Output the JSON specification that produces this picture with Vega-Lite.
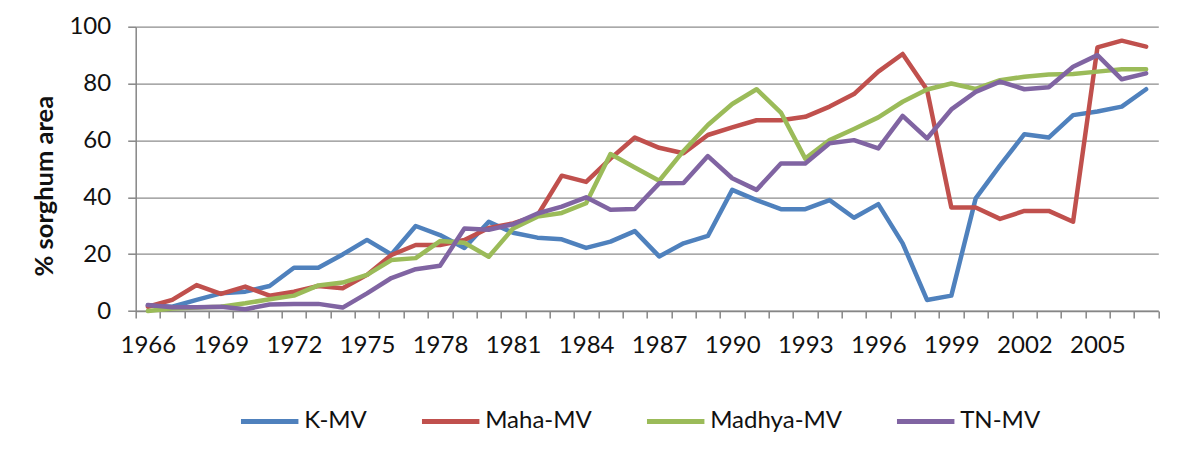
{
  "$schema": "https://vega.github.io/schema/vega-lite/v6.json",
  "autosize": {"type": "none"},
  "padding": {"left": 135.7, "top": 26.7, "right": 32.7, "bottom": 148},
  "width": 1022.6,
  "height": 284.3,
  "background": "white",
  "config": {
    "font": "Lato",
    "view": {"stroke": null},
    "axis": {"labelFont": "Lato", "labelFontSize": 24, "labelColor": "#111111", "domainColor": "#868686", "tickColor": "#868686", "domainWidth": 1.5, "tickWidth": 1.5, "gridColor": "#8c8c8c", "gridWidth": 1.3},
    "legend": {"labelFont": "Lato", "labelFontSize": 24, "labelColor": "#111111"}
  },
  "data": {"values": [
    {"year":"1966","series":"K-MV","value":2.0},{"year":"1967","series":"K-MV","value":1.5},{"year":"1968","series":"K-MV","value":3.9},{"year":"1969","series":"K-MV","value":6.2},{"year":"1970","series":"K-MV","value":6.8},{"year":"1971","series":"K-MV","value":8.8},{"year":"1972","series":"K-MV","value":15.2},{"year":"1973","series":"K-MV","value":15.2},{"year":"1974","series":"K-MV","value":19.9},{"year":"1975","series":"K-MV","value":25.0},{"year":"1976","series":"K-MV","value":19.9},{"year":"1977","series":"K-MV","value":29.9},{"year":"1978","series":"K-MV","value":26.7},{"year":"1979","series":"K-MV","value":22.2},{"year":"1980","series":"K-MV","value":31.4},{"year":"1981","series":"K-MV","value":27.5},{"year":"1982","series":"K-MV","value":25.8},{"year":"1983","series":"K-MV","value":25.2},{"year":"1984","series":"K-MV","value":22.2},{"year":"1985","series":"K-MV","value":24.4},{"year":"1986","series":"K-MV","value":28.1},{"year":"1987","series":"K-MV","value":19.2},{"year":"1988","series":"K-MV","value":23.8},{"year":"1989","series":"K-MV","value":26.4},{"year":"1990","series":"K-MV","value":42.6},{"year":"1991","series":"K-MV","value":39.0},{"year":"1992","series":"K-MV","value":35.8},{"year":"1993","series":"K-MV","value":35.8},{"year":"1994","series":"K-MV","value":39.0},{"year":"1995","series":"K-MV","value":32.8},{"year":"1996","series":"K-MV","value":37.6},{"year":"1997","series":"K-MV","value":23.8},{"year":"1998","series":"K-MV","value":3.9},{"year":"1999","series":"K-MV","value":5.4},{"year":"2000","series":"K-MV","value":39.6},{"year":"2001","series":"K-MV","value":51.2},{"year":"2002","series":"K-MV","value":62.2},{"year":"2003","series":"K-MV","value":61.0},{"year":"2004","series":"K-MV","value":68.9},{"year":"2005","series":"K-MV","value":70.2},{"year":"2006","series":"K-MV","value":71.9},{"year":"2007","series":"K-MV","value":78.0},
    {"year":"1966","series":"Maha-MV","value":1.5},{"year":"1967","series":"Maha-MV","value":3.9},{"year":"1968","series":"Maha-MV","value":9.1},{"year":"1969","series":"Maha-MV","value":6.0},{"year":"1970","series":"Maha-MV","value":8.6},{"year":"1971","series":"Maha-MV","value":5.4},{"year":"1972","series":"Maha-MV","value":6.8},{"year":"1973","series":"Maha-MV","value":8.8},{"year":"1974","series":"Maha-MV","value":8.0},{"year":"1975","series":"Maha-MV","value":12.7},{"year":"1976","series":"Maha-MV","value":19.7},{"year":"1977","series":"Maha-MV","value":23.2},{"year":"1978","series":"Maha-MV","value":23.2},{"year":"1979","series":"Maha-MV","value":25.0},{"year":"1980","series":"Maha-MV","value":29.2},{"year":"1981","series":"Maha-MV","value":30.8},{"year":"1982","series":"Maha-MV","value":33.6},{"year":"1983","series":"Maha-MV","value":47.6},{"year":"1984","series":"Maha-MV","value":45.4},{"year":"1985","series":"Maha-MV","value":53.6},{"year":"1986","series":"Maha-MV","value":61.0},{"year":"1987","series":"Maha-MV","value":57.4},{"year":"1988","series":"Maha-MV","value":55.5},{"year":"1989","series":"Maha-MV","value":61.9},{"year":"1990","series":"Maha-MV","value":64.6},{"year":"1991","series":"Maha-MV","value":67.1},{"year":"1992","series":"Maha-MV","value":67.1},{"year":"1993","series":"Maha-MV","value":68.3},{"year":"1994","series":"Maha-MV","value":71.9},{"year":"1995","series":"Maha-MV","value":76.3},{"year":"1996","series":"Maha-MV","value":84.2},{"year":"1997","series":"Maha-MV","value":90.4},{"year":"1998","series":"Maha-MV","value":77.8},{"year":"1999","series":"Maha-MV","value":36.4},{"year":"2000","series":"Maha-MV","value":36.4},{"year":"2001","series":"Maha-MV","value":32.4},{"year":"2002","series":"Maha-MV","value":35.2},{"year":"2003","series":"Maha-MV","value":35.2},{"year":"2004","series":"Maha-MV","value":31.4},{"year":"2005","series":"Maha-MV","value":92.7},{"year":"2006","series":"Maha-MV","value":95.1},{"year":"2007","series":"Maha-MV","value":93.0},
    {"year":"1966","series":"Madhya-MV","value":0.0},{"year":"1967","series":"Madhya-MV","value":0.9},{"year":"1968","series":"Madhya-MV","value":1.2},{"year":"1969","series":"Madhya-MV","value":1.5},{"year":"1970","series":"Madhya-MV","value":2.7},{"year":"1971","series":"Madhya-MV","value":4.1},{"year":"1972","series":"Madhya-MV","value":5.4},{"year":"1973","series":"Madhya-MV","value":9.0},{"year":"1974","series":"Madhya-MV","value":10.0},{"year":"1975","series":"Madhya-MV","value":12.7},{"year":"1976","series":"Madhya-MV","value":17.9},{"year":"1977","series":"Madhya-MV","value":18.6},{"year":"1978","series":"Madhya-MV","value":24.6},{"year":"1979","series":"Madhya-MV","value":24.0},{"year":"1980","series":"Madhya-MV","value":19.1},{"year":"1981","series":"Madhya-MV","value":29.0},{"year":"1982","series":"Madhya-MV","value":33.2},{"year":"1983","series":"Madhya-MV","value":34.5},{"year":"1984","series":"Madhya-MV","value":37.9},{"year":"1985","series":"Madhya-MV","value":55.2},{"year":"1986","series":"Madhya-MV","value":50.5},{"year":"1987","series":"Madhya-MV","value":45.8},{"year":"1988","series":"Madhya-MV","value":56.3},{"year":"1989","series":"Madhya-MV","value":65.4},{"year":"1990","series":"Madhya-MV","value":72.8},{"year":"1991","series":"Madhya-MV","value":78.0},{"year":"1992","series":"Madhya-MV","value":69.8},{"year":"1993","series":"Madhya-MV","value":53.6},{"year":"1994","series":"Madhya-MV","value":60.1},{"year":"1995","series":"Madhya-MV","value":64.0},{"year":"1996","series":"Madhya-MV","value":68.1},{"year":"1997","series":"Madhya-MV","value":73.6},{"year":"1998","series":"Madhya-MV","value":77.9},{"year":"1999","series":"Madhya-MV","value":80.0},{"year":"2000","series":"Madhya-MV","value":78.1},{"year":"2001","series":"Madhya-MV","value":81.2},{"year":"2002","series":"Madhya-MV","value":82.4},{"year":"2003","series":"Madhya-MV","value":83.2},{"year":"2004","series":"Madhya-MV","value":83.4},{"year":"2005","series":"Madhya-MV","value":84.2},{"year":"2006","series":"Madhya-MV","value":85.0},{"year":"2007","series":"Madhya-MV","value":85.0},
    {"year":"1966","series":"TN-MV","value":2.1},{"year":"1967","series":"TN-MV","value":1.3},{"year":"1968","series":"TN-MV","value":1.3},{"year":"1969","series":"TN-MV","value":1.5},{"year":"1970","series":"TN-MV","value":0.6},{"year":"1971","series":"TN-MV","value":2.3},{"year":"1972","series":"TN-MV","value":2.5},{"year":"1973","series":"TN-MV","value":2.5},{"year":"1974","series":"TN-MV","value":1.2},{"year":"1975","series":"TN-MV","value":6.2},{"year":"1976","series":"TN-MV","value":11.6},{"year":"1977","series":"TN-MV","value":14.7},{"year":"1978","series":"TN-MV","value":15.9},{"year":"1979","series":"TN-MV","value":29.0},{"year":"1980","series":"TN-MV","value":28.6},{"year":"1981","series":"TN-MV","value":30.5},{"year":"1982","series":"TN-MV","value":34.3},{"year":"1983","series":"TN-MV","value":36.7},{"year":"1984","series":"TN-MV","value":40.0},{"year":"1985","series":"TN-MV","value":35.6},{"year":"1986","series":"TN-MV","value":35.9},{"year":"1987","series":"TN-MV","value":44.9},{"year":"1988","series":"TN-MV","value":45.0},{"year":"1989","series":"TN-MV","value":54.5},{"year":"1990","series":"TN-MV","value":46.7},{"year":"1991","series":"TN-MV","value":42.6},{"year":"1992","series":"TN-MV","value":51.9},{"year":"1993","series":"TN-MV","value":51.9},{"year":"1994","series":"TN-MV","value":59.0},{"year":"1995","series":"TN-MV","value":60.1},{"year":"1996","series":"TN-MV","value":57.2},{"year":"1997","series":"TN-MV","value":68.6},{"year":"1998","series":"TN-MV","value":60.7},{"year":"1999","series":"TN-MV","value":70.9},{"year":"2000","series":"TN-MV","value":77.1},{"year":"2001","series":"TN-MV","value":80.7},{"year":"2002","series":"TN-MV","value":78.0},{"year":"2003","series":"TN-MV","value":78.7},{"year":"2004","series":"TN-MV","value":85.9},{"year":"2005","series":"TN-MV","value":90.0},{"year":"2006","series":"TN-MV","value":81.5},{"year":"2007","series":"TN-MV","value":83.6}
  ]},
  "mark": {"type": "line", "strokeWidth": 4.5, "strokeJoin": "round", "strokeCap": "round"},
  "encoding": {
    "x": {
      "field": "year", "type": "ordinal", "bandPosition": 0.5,
      "scale": {"type": "band", "paddingInner": 0, "paddingOuter": 0},
      "axis": {"title": null, "labelAngle": 0, "tickBand": "extent", "tickSize": 7, "labelPadding": 15, "grid": false,
        "labelExpr": "(+datum.value - 1966) % 3 == 0 ? datum.value : ''"}
    },
    "y": {
      "field": "value", "type": "quantitative",
      "scale": {"domain": [0, 100], "nice": false},
      "axis": {"values": [0, 20, 40, 60, 80, 100], "tickSize": 8, "labelPadding": 17, "grid": true,
        "title": "% sorghum area", "titleFont": "Lato", "titleFontSize": 25.5, "titleFontWeight": "bold", "titleColor": "#111111",
        "titleAngle": 270, "titleX": -91, "titleY": 159, "titleAlign": "center", "titleBaseline": "middle"}
    },
    "color": {
      "field": "series", "type": "nominal",
      "scale": {"domain": ["K-MV", "Maha-MV", "Madhya-MV", "TN-MV"], "range": ["#4F81BD", "#C0504D", "#9BBB59", "#8064A2"]},
      "legend": {"title": null, "orient": "none", "legendX": 102.5, "legendY": 363, "direction": "horizontal", "columns": 4,
        "symbolType": "stroke", "symbolSize": 3300, "symbolStrokeWidth": 5, "labelOffset": 3, "columnPadding": 44}
    }
  }
}
